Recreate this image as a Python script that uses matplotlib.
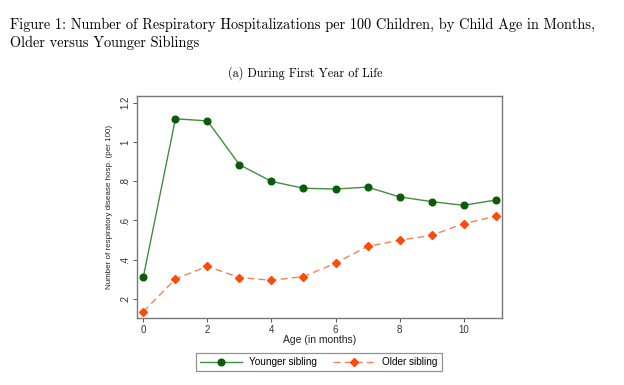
import matplotlib
matplotlib.use("Agg")
import matplotlib.pyplot as plt
from matplotlib.ticker import FixedLocator

months = [0, 1, 2, 3, 4, 5, 6, 7, 8, 9, 10, 11]
younger = [0.314, 1.118, 1.107, 0.884, 0.799, 0.764, 0.760, 0.770, 0.720, 0.696, 0.677, 0.704]
older = [0.135, 0.302, 0.366, 0.309, 0.295, 0.314, 0.382, 0.468, 0.499, 0.524, 0.584, 0.621]
xticks = [0, 2, 4, 6, 8, 10]
yticks = [0.2, 0.4, 0.6, 0.8, 1.0, 1.2]
ytick_labels = [".2", ".4", ".6", ".8", "1", "1.2"]

fig = plt.figure(figsize=(6.24, 3.85), dpi=100)
fig.text(10/624, 1 - 25/385, "Figure 1: Number of Respiratory Hospitalizations per 100 Children, by Child Age in Months,",
         family="cmr10", fontsize=10.35, va="center", ha="left")
fig.text(10/624, 1 - 43/385, "Older versus Younger Siblings",
         family="cmr10", fontsize=10.35, va="center", ha="left")
fig.text(305/624, 1 - 73/385, "(a) During First Year of Life",
         family="cmr10", fontsize=8.8, va="center", ha="center")

ax = fig.add_axes([137/624, 1 - 318/385, (502 - 137)/624, (318 - 96)/385])
ax.plot(months, younger, color="#3f8f3f", lw=1.0, marker="o", ms=4.8,
        mfc="#0a5c0a", mec="#0a5c0a", label="Younger sibling", zorder=3)
ax.plot(months, older, color="#f5825a", lw=1.0, ls=(0, (5, 3)), marker="D", ms=4.3,
        mfc="#ff4a0a", mec="#ff4a0a", label="Older sibling", zorder=3)
ax.set_xlim(-0.2, 11.2)
ax.set_ylim(0.103, 1.234)
ax.xaxis.set_major_locator(FixedLocator(xticks))
ax.set_yticks(yticks)
ax.set_yticklabels(ytick_labels, rotation=90, va="center")
for lab in ax.get_xticklabels() + ax.get_yticklabels():
    lab.set_family("Liberation Sans")
    lab.set_fontsize(7)
    lab.set_color("#333333")
ax.tick_params(length=3, width=0.7, color="#555555", pad=2)
for s in ax.spines.values():
    s.set_color("#777777")
    s.set_linewidth(1.0)
ax.set_xlabel("Age (in months)", family="Liberation Sans", fontsize=7.5, labelpad=0, color="#222222")
ax.set_ylabel("Number of respiratory disease hosp. (per 100)", family="Liberation Sans", fontsize=5.8,
              labelpad=5, color="#222222")

leg = fig.legend(loc="center", bbox_to_anchor=(319/624, 1 - 362/385), ncol=2, frameon=True,
                 fancybox=False, prop={"family": "Liberation Sans", "size": 7.2},
                 handlelength=4.2, columnspacing=1.6, borderpad=0.4, handletextpad=0.7)
leg.get_frame().set_edgecolor("#777777")
leg.get_frame().set_linewidth(0.9)

fig.savefig("out.png", dpi=100)
